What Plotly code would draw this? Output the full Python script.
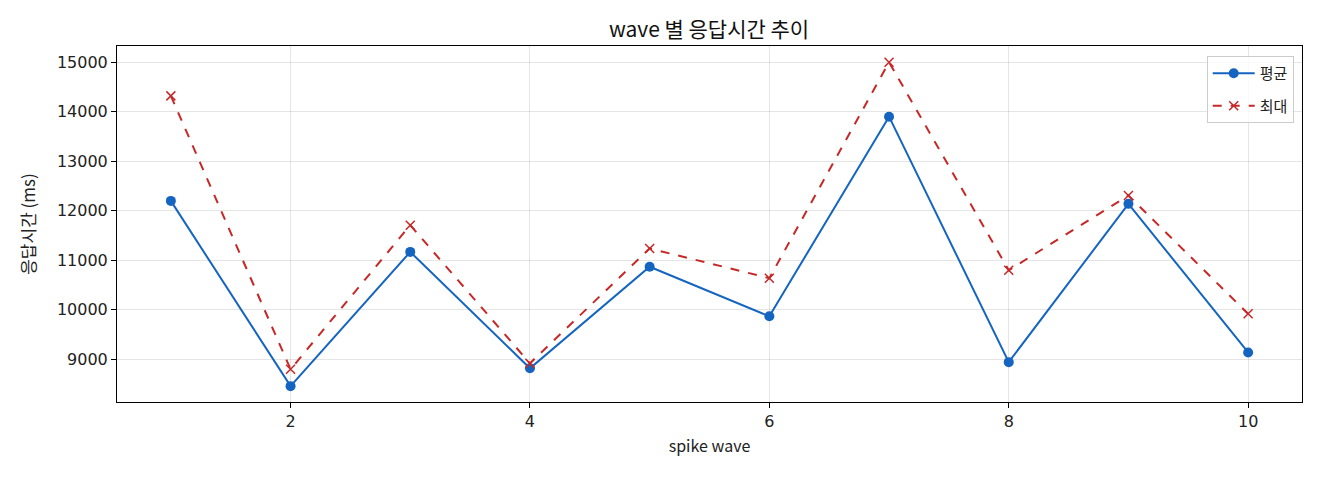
import plotly.graph_objects as go

waves = [1, 2, 3, 4, 5, 6, 7, 8, 9, 10]
avg_ms = [12200, 8460, 11170, 8820, 10870, 9870, 13900, 8945, 12140, 9140]
max_ms = [14320, 8800, 11710, 8920, 11240, 10640, 15000, 10800, 12310, 9920]

font_name = "Noto Sans CJK KR"
tick_font = dict(family="DejaVu Sans", size=16, color='#222')

fig = go.Figure()
fig.add_trace(go.Scatter(x=waves, y=avg_ms, mode='lines+markers', name='평균',
                         legendgroup='avg',
                         line=dict(color='#1565C0', width=2),
                         marker=dict(symbol='circle', size=10, color='#1565C0')))
fig.add_trace(go.Scatter(x=waves, y=max_ms, mode='lines+markers', name='최대',
                         legendgroup='max',
                         line=dict(color='#C62828', width=2, dash='dash'),
                         marker=dict(symbol='x-thin', size=9,
                                     line=dict(color='#C62828', width=1.5))))

axis_style = dict(showline=True, linecolor='black', linewidth=1, mirror=True,
                  ticks='outside', ticklen=5, tickcolor='black',
                  showgrid=True, gridcolor='rgba(0,0,0,0.1)', gridwidth=1,
                  zeroline=False, tickfont=tick_font)

# page body has an 8px margin, so the figure is a bit smaller than the window
fig.update_layout(
    width=1304, height=464,
    margin=dict(l=109, r=10, t=38, b=70),
    plot_bgcolor='white', paper_bgcolor='white',
    font=dict(family=font_name, color='#222'),
    title=dict(text='wave 별 응답시간 추이', x=0.5376, xanchor='center',
               y=0.953, yanchor='middle', font=dict(size=21, color='#111')),
    xaxis=dict(range=[0.55, 10.45], tickvals=[2, 4, 6, 8, 10],
               title=dict(text='spike wave', font=dict(size=16), standoff=10), **axis_style),
    yaxis=dict(range=[8140, 15327], tickvals=[9000, 10000, 11000, 12000, 13000, 14000, 15000],
               tickformat='d',
               title=dict(text='응답시간 (ms)', font=dict(size=17), standoff=16), **axis_style),
    legend=dict(x=0.993, y=0.972, xanchor='right', yanchor='top',
                bgcolor='rgba(255,255,255,0.8)', bordercolor='#ccc', borderwidth=1,
                font=dict(size=15), tracegroupgap=10, traceorder='grouped',
                itemwidth=42),
)

fig.write_html("out.html")
